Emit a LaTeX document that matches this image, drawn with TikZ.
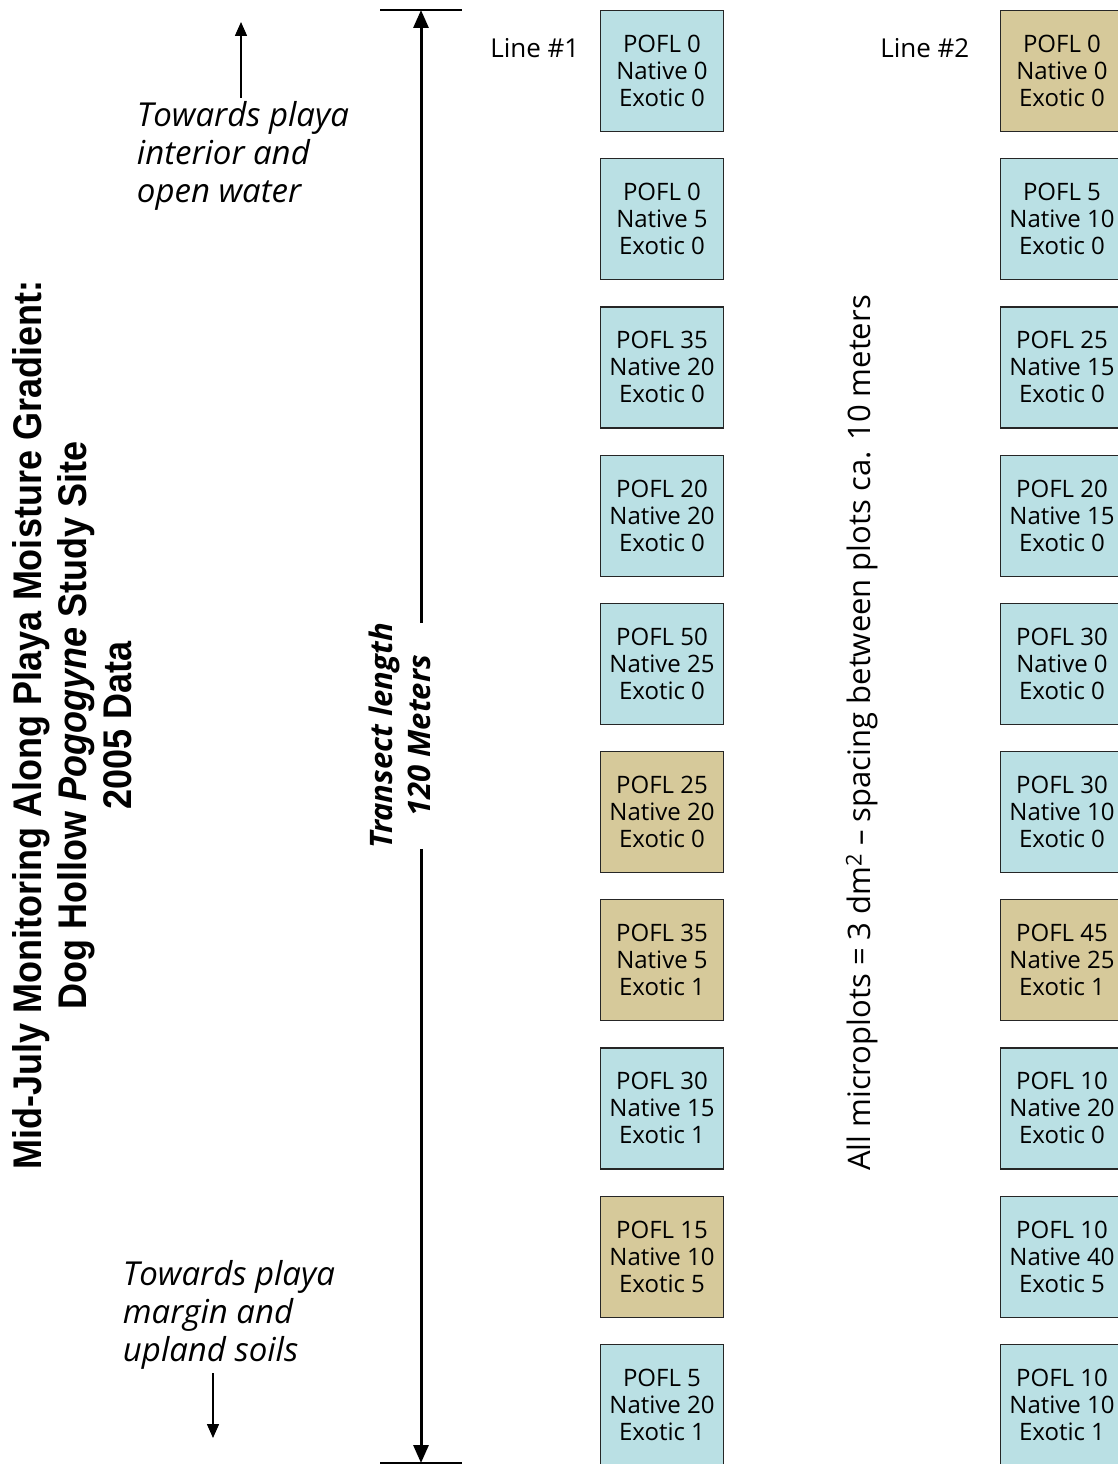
\documentclass[tikz,border=0pt]{standalone}
\usepackage{fontspec}
\setmainfont{Open Sans}
\newfontfamily\titlefont[FakeStretch=0.9]{Liberation Sans}
\usetikzlibrary{positioning, arrows.meta, calc}

\definecolor{plotblue}{HTML}{BAE0E4}
\definecolor{plottan}{HTML}{D6C99A}

\begin{document}
\begin{tikzpicture}[
    x=1pt, y=-1pt,
    node distance=26pt,
    micro/.style={draw=black!85, line width=1.2pt, minimum width=123pt, minimum height=121pt,
      align=center, inner sep=0pt, font=\fontsize{24}{27}\selectfont},
    wetplot/.style={micro, fill=plotblue},
    dryplot/.style={micro, fill=plottan},
    note/.style={align=left, font=\itshape\fontsize{33}{38}\selectfont},
    linelabel/.style={font=\fontsize{26}{28}\selectfont},
    bigarrow/.style={line width=3pt, -{Triangle[length=18pt,width=15pt]}},
    smallarrow/.style={line width=1.5pt, -{Triangle[length=14pt,width=12pt]}},
  ]
  \useasboundingbox[fill=white] (0,0) rectangle (1117,1464);

  % Title
  \node[rotate=90, align=center, font=\titlefont\bfseries\fontsize{40}{45}\selectfont] (title) at (72,725)
    {Mid-July Monitoring Along Playa Moisture Gradient:\\Dog Hollow \textit{Pogogyne} Study Site\\2005 Data};

  % Direction notes
  \node[note] (inward) at (243,156) {Towards playa\\interior and\\open water};
  \node[note] (outward) at (229,1315) {Towards playa\\margin and\\upland soils};
  \coordinate (intip) at (241,22);
  \coordinate (outtip) at (213,1438);
  \draw[smallarrow] (inward.north -| intip) -- (intip);
  \draw[smallarrow] (outward.south -| outtip) -- (outtip);

  % Transect
  \coordinate (top) at (421,10);
  \coordinate (bottom) at (421,1463);
  \draw[line width=1.5pt] (top) ++(-41,0) -- ++(82,0);
  \draw[line width=1.5pt] (bottom) ++(-41,0) -- ++(82,0);
  \node[rotate=90, align=center, inner sep=0pt, font=\bfseries\itshape\fontsize{31}{38}\selectfont] (span) at (400,736)
    {Transect length\\120 Meters};
  \draw[bigarrow] (span.east -| top) -- (top);
  \draw[bigarrow] (span.west -| bottom) -- (bottom);

  % Line 1
  \node[wetplot] (A1) at (662,71) {POFL 0\\Native 0\\Exotic 0};
  \node[wetplot, below=of A1] (A2) {POFL 0\\Native 5\\Exotic 0};
  \node[wetplot, below=of A2] (A3) {POFL 35\\Native 20\\Exotic 0};
  \node[wetplot, below=of A3] (A4) {POFL 20\\Native 20\\Exotic 0};
  \node[wetplot, below=of A4] (A5) {POFL 50\\Native 25\\Exotic 0};
  \node[dryplot, below=of A5] (A6) {POFL 25\\Native 20\\Exotic 0};
  \node[dryplot, below=of A6] (A7) {POFL 35\\Native 5\\Exotic 1};
  \node[wetplot, below=of A7] (A8) {POFL 30\\Native 15\\Exotic 1};
  \node[dryplot, below=of A8] (A9) {POFL 15\\Native 10\\Exotic 5};
  \node[wetplot, below=of A9] (A10) {POFL 5\\Native 20\\Exotic 1};
  \node[linelabel, left=17pt of A1.west, yshift=23pt] (line1) {Line \#1};

  % Line 2
  \node[dryplot] (B1) at (1062,71) {POFL 0\\Native 0\\Exotic 0};
  \node[wetplot, below=of B1] (B2) {POFL 5\\Native 10\\Exotic 0};
  \node[wetplot, below=of B2] (B3) {POFL 25\\Native 15\\Exotic 0};
  \node[wetplot, below=of B3] (B4) {POFL 20\\Native 15\\Exotic 0};
  \node[wetplot, below=of B4] (B5) {POFL 30\\Native 0\\Exotic 0};
  \node[wetplot, below=of B5] (B6) {POFL 30\\Native 10\\Exotic 0};
  \node[dryplot, below=of B6] (B7) {POFL 45\\Native 25\\Exotic 1};
  \node[wetplot, below=of B7] (B8) {POFL 10\\Native 20\\Exotic 0};
  \node[wetplot, below=of B8] (B9) {POFL 10\\Native 40\\Exotic 5};
  \node[wetplot, below=of B9] (B10) {POFL 10\\Native 10\\Exotic 1};
  \node[linelabel, left=27pt of B1.west, yshift=23pt] (line2) {Line \#2};

  % Spacing note
  \node[rotate=90, font=\fontsize{31}{34}\selectfont] (spacing) at (862,733)
    {All microplots = 3 dm\textsuperscript{2} -- spacing between plots ca. 10 meters};
\end{tikzpicture}
\end{document}
